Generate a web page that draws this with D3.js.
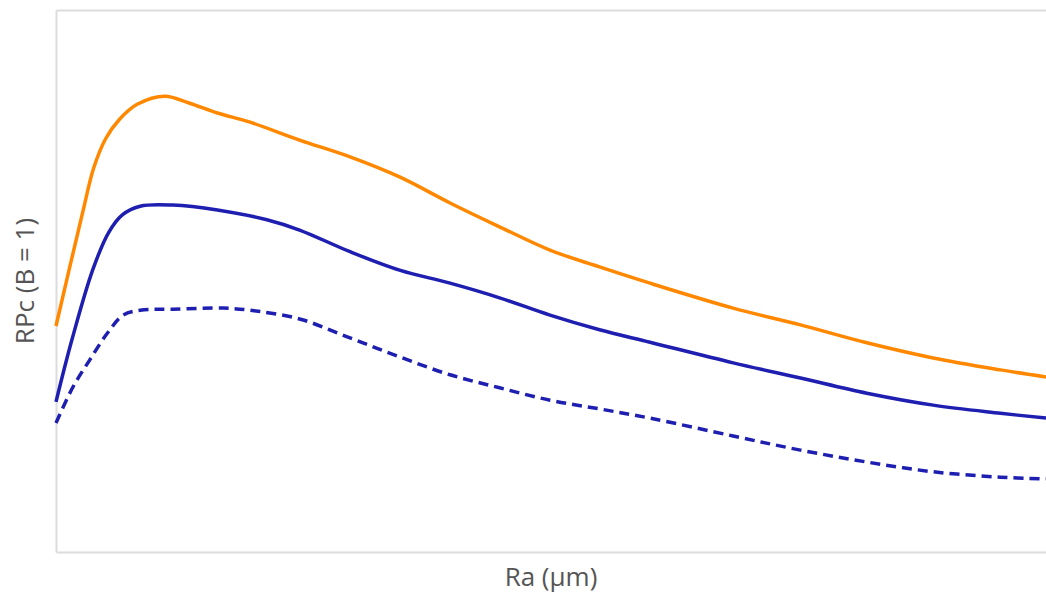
<!DOCTYPE html>
<html>
<head>
<meta charset="utf-8">
<script src="https://cdn.jsdelivr.net/npm/d3@7"></script>
<style>
  body { margin: 0; background: #fff; }
  .axis path { stroke: #dcdcdc; stroke-width: 2; }
  .axis-title { font-family: "Open Sans", sans-serif; font-size: 26px; fill: #555; }
</style>
</head>
<body>
<div id="chart"></div>
<script>
// Ra values (arbitrary units, axis has no ticks)
const raOrange = [0, 0.27, 0.38, 0.50, 0.64, 0.82, 1.10, 1.35, 1.63, 1.96, 2.46, 2.97, 3.47, 3.98, 4.48, 4.99, 5.49, 6.00, 6.84, 7.52, 8.19, 8.86, 9.54, 10];
const rpcOrange = [4.17, 6.27, 7.08, 7.62, 7.98, 8.26, 8.41, 8.28, 8.10, 7.93, 7.60, 7.29, 6.92, 6.44, 6.00, 5.57, 5.26, 4.96, 4.50, 4.19, 3.86, 3.58, 3.36, 3.23];

const raBlue = [0, 0.16, 0.37, 0.53, 0.67, 0.85, 1.18, 1.63, 2.13, 2.46, 2.97, 3.47, 3.98, 4.48, 4.99, 5.49, 6.00, 6.84, 7.52, 8.19, 8.86, 9.54, 10];
const rpcBlue = [2.77, 3.91, 5.20, 5.89, 6.22, 6.38, 6.40, 6.31, 6.13, 5.94, 5.54, 5.20, 4.96, 4.69, 4.37, 4.10, 3.87, 3.49, 3.21, 2.93, 2.71, 2.56, 2.47];

const raDashed = [0, 0.17, 0.34, 0.52, 0.68, 0.85, 1.18, 1.69, 1.96, 2.46, 2.97, 3.47, 3.98, 4.48, 4.99, 5.49, 6.00, 6.84, 7.52, 8.19, 8.86, 9.54, 10];
const rpcDashed = [2.38, 3.04, 3.54, 4.04, 4.37, 4.46, 4.48, 4.50, 4.46, 4.30, 3.95, 3.60, 3.27, 3.03, 2.80, 2.64, 2.47, 2.14, 1.88, 1.66, 1.48, 1.38, 1.35];

const series = [
    { ra: raOrange, rpc: rpcOrange, color: '#ff8800', dash: null },
    { ra: raBlue, rpc: rpcBlue, color: '#1e1eb0', dash: null },
    { ra: raDashed, rpc: rpcDashed, color: '#1e1eb0', dash: '10,6' }
];

const width = 1046, height = 593;
const margin = { left: 56, top: 10, right: 0, bottom: 41 };

const x = d3.scaleLinear().domain([0, 10]).range([margin.left, width - margin.right]);
const y = d3.scaleLinear().domain([0, 10]).range([height - margin.bottom, margin.top]);

const svg = d3.select('#chart').append('svg')
    .attr('width', width)
    .attr('height', height);

// frame: top, left, bottom (no ticks)
svg.append('g').attr('class', 'axis')
    .attr('transform', 'translate(0,' + (height - margin.bottom) + ')')
    .call(d3.axisBottom(x).ticks(0).tickSize(0).tickSizeOuter(0));
svg.append('g').attr('class', 'axis')
    .attr('transform', 'translate(0,' + margin.top + ')')
    .call(d3.axisTop(x).ticks(0).tickSize(0).tickSizeOuter(0));
svg.append('g').attr('class', 'axis')
    .attr('transform', 'translate(' + margin.left + ',0)')
    .call(d3.axisLeft(y).ticks(0).tickSize(0).tickSizeOuter(0));

const line = d3.line()
    .x(d => x(d[0]))
    .y(d => y(d[1]))
    .curve(d3.curveCatmullRom.alpha(0.5));

series.forEach(s => {
    const pts = s.ra.map((r, i) => [r, s.rpc[i]]);
    svg.append('path')
        .datum(pts)
        .attr('fill', 'none')
        .attr('stroke', s.color)
        .attr('stroke-width', 3.5)
        .attr('stroke-dasharray', s.dash)
        .attr('d', line);
});

svg.append('text').attr('class', 'axis-title')
    .attr('x', (margin.left + width) / 2)
    .attr('y', 586)
    .attr('text-anchor', 'middle')
    .text('Ra (µm)');

svg.append('text').attr('class', 'axis-title')
    .attr('transform', 'translate(34,' + ((margin.top + height - margin.bottom) / 2) + ') rotate(-90)')
    .attr('text-anchor', 'middle')
    .text('RPc (B = 1)');
</script>
</body>
</html>
